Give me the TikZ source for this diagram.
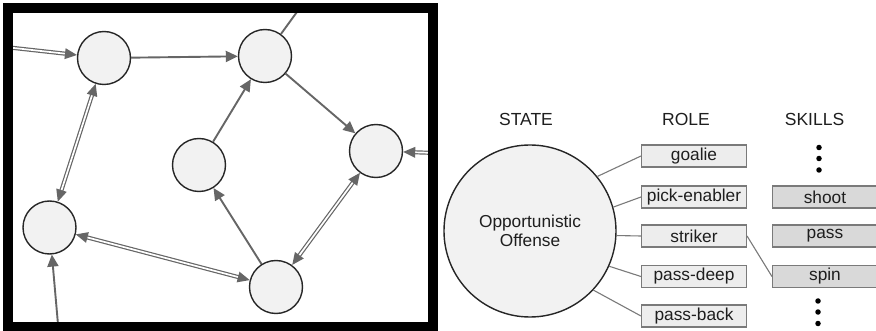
\documentclass[tikz,border=0pt]{standalone}
\usepackage{fontspec}
\setmainfont{Liberation Sans}
\usetikzlibrary{arrows.meta,decorations.markings}
\definecolor{edgegray}{HTML}{666666}
\definecolor{boxgray}{HTML}{7A7A7A}
\definecolor{rolefill}{HTML}{EDEDED}
\definecolor{skillfill}{HTML}{D9D9D9}
\definecolor{nodefill}{HTML}{F2F2F2}
\definecolor{txt}{HTML}{1E1E1E}
\begin{document}
\begin{tikzpicture}[x=1pt,y=-1pt,
  netnode/.style={circle, draw=black!85, line width=1.4pt, fill=nodefill, minimum size=53pt, inner sep=0pt},
  tipA/.tip={Triangle[length=12pt,width=11pt]},
  sarrow/.style={draw=edgegray, line width=1.9pt, -tipA},
  sline/.style={draw=edgegray, line width=1.9pt},
  darrow/.style={draw=edgegray, line width=1.2pt, double=white, double distance=1.7pt},
  endtip/.style={shorten >=9pt, postaction={decorate, decoration={markings,
      mark=at position 1 with {\fill[edgegray] (0pt,0pt) -- (-12pt,5.5pt) -- (-12pt,-5.5pt) -- cycle;}}}},
  starttip/.style={shorten <=9pt, postaction={decorate, decoration={markings,
      mark=at position 0 with {\fill[edgegray] (0pt,0pt) -- (12pt,5.5pt) -- (12pt,-5.5pt) -- cycle;}}}},
  rolebox/.style={draw=boxgray, line width=1.1pt, fill=rolefill, minimum width=105pt, minimum height=22pt, inner sep=0pt, text=txt, font=\fontsize{17.3}{19}\selectfont},
  skillbox/.style={rolebox, fill=skillfill},
  header/.style={text=txt, font=\fontsize{17.5}{19}\selectfont},
  conn/.style={draw=boxgray, line width=1.1pt},
  dotmark/.style={circle, fill=black, inner sep=0pt, minimum size=5.5pt}
]
\useasboundingbox (0,0) rectangle (876,331);
\fill[white] (0,0) rectangle (876,331);

% ---- network ----
\node[netnode] (A) at (104,58) {};
\node[netnode] (B) at (265,56) {};
\node[netnode] (C) at (199,165) {};
\node[netnode] (D) at (376,151) {};
\node[netnode] (E) at (49.5,227.5) {};
\node[netnode] (F) at (276,287) {};

\coordinate (inA) at (5,47);
\coordinate (outB) at (302,5);
\coordinate (inD) at (436,153);
\coordinate (inE) at (58.5,330);

\begin{scope}
\clip (8,8) rectangle (432.5,326.5);
\draw[darrow, endtip] (inA) -- (A);
\draw[sline] (B) -- (outB);
\draw[darrow, endtip] (inD) -- (D);
\draw[sarrow] (inE) -- (E);
\end{scope}

\draw[sarrow] (A) -- (B);
\draw[sarrow] (B) -- (D);
\draw[sarrow] (C) -- (B);
\draw[sarrow] (F) -- (C);
\draw[darrow, starttip, endtip] (A) -- (E);
\draw[darrow, starttip, endtip] (E) -- (F);
\draw[darrow, starttip, endtip] (D) -- (F);

\draw[line width=10pt] (8,8) rectangle (432.5,326.5);

% ---- state / role / skills ----
\node[header] (hstate) at (526,119.5) {STATE};
\node[header] (hrole) at (686,119.5) {ROLE};
\node[header] (hskills) at (814.5,119.5) {SKILLS};

\node[circle, draw=black!85, line width=1.4pt, fill=nodefill, minimum size=172pt, inner sep=0pt,
      align=center, text=txt, font=\fontsize{17.3}{19}\selectfont] (big) at (530,231) {Opportunistic\\Offense};

\node[rolebox] (goalie) at (694,156) {goalie};
\node[rolebox] (pick) at (694,197) {pick-enabler};
\node[rolebox] (striker) at (694,236) {striker};
\node[rolebox] (deep) at (694,276.5) {pass-deep};
\node[rolebox] (back) at (694,316) {pass-back};

\node[skillbox] (shoot) at (825,197) {shoot};
\node[skillbox] (pass) at (825,236) {pass};
\node[skillbox] (spin) at (825,276.5) {spin};

\draw[conn] (big.39) -- (goalie.west);
\draw[conn] (big.16) -- (pick.west);
\draw[conn] (big.-3) -- (striker.west);
\draw[conn] (big.-24) -- (deep.west);
\draw[conn] (big.-43) -- (back.west);
\draw[conn] (striker.east) -- (spin.west);

\node[dotmark] (d1) at (819,147.5) {};
\node[dotmark] (d2) at (819,158.5) {};
\node[dotmark] (d3) at (819,170) {};
\node[dotmark] (d4) at (818,301) {};
\node[dotmark] (d5) at (818,312) {};
\node[dotmark] (d6) at (818,323.5) {};
\end{tikzpicture}
\end{document}
